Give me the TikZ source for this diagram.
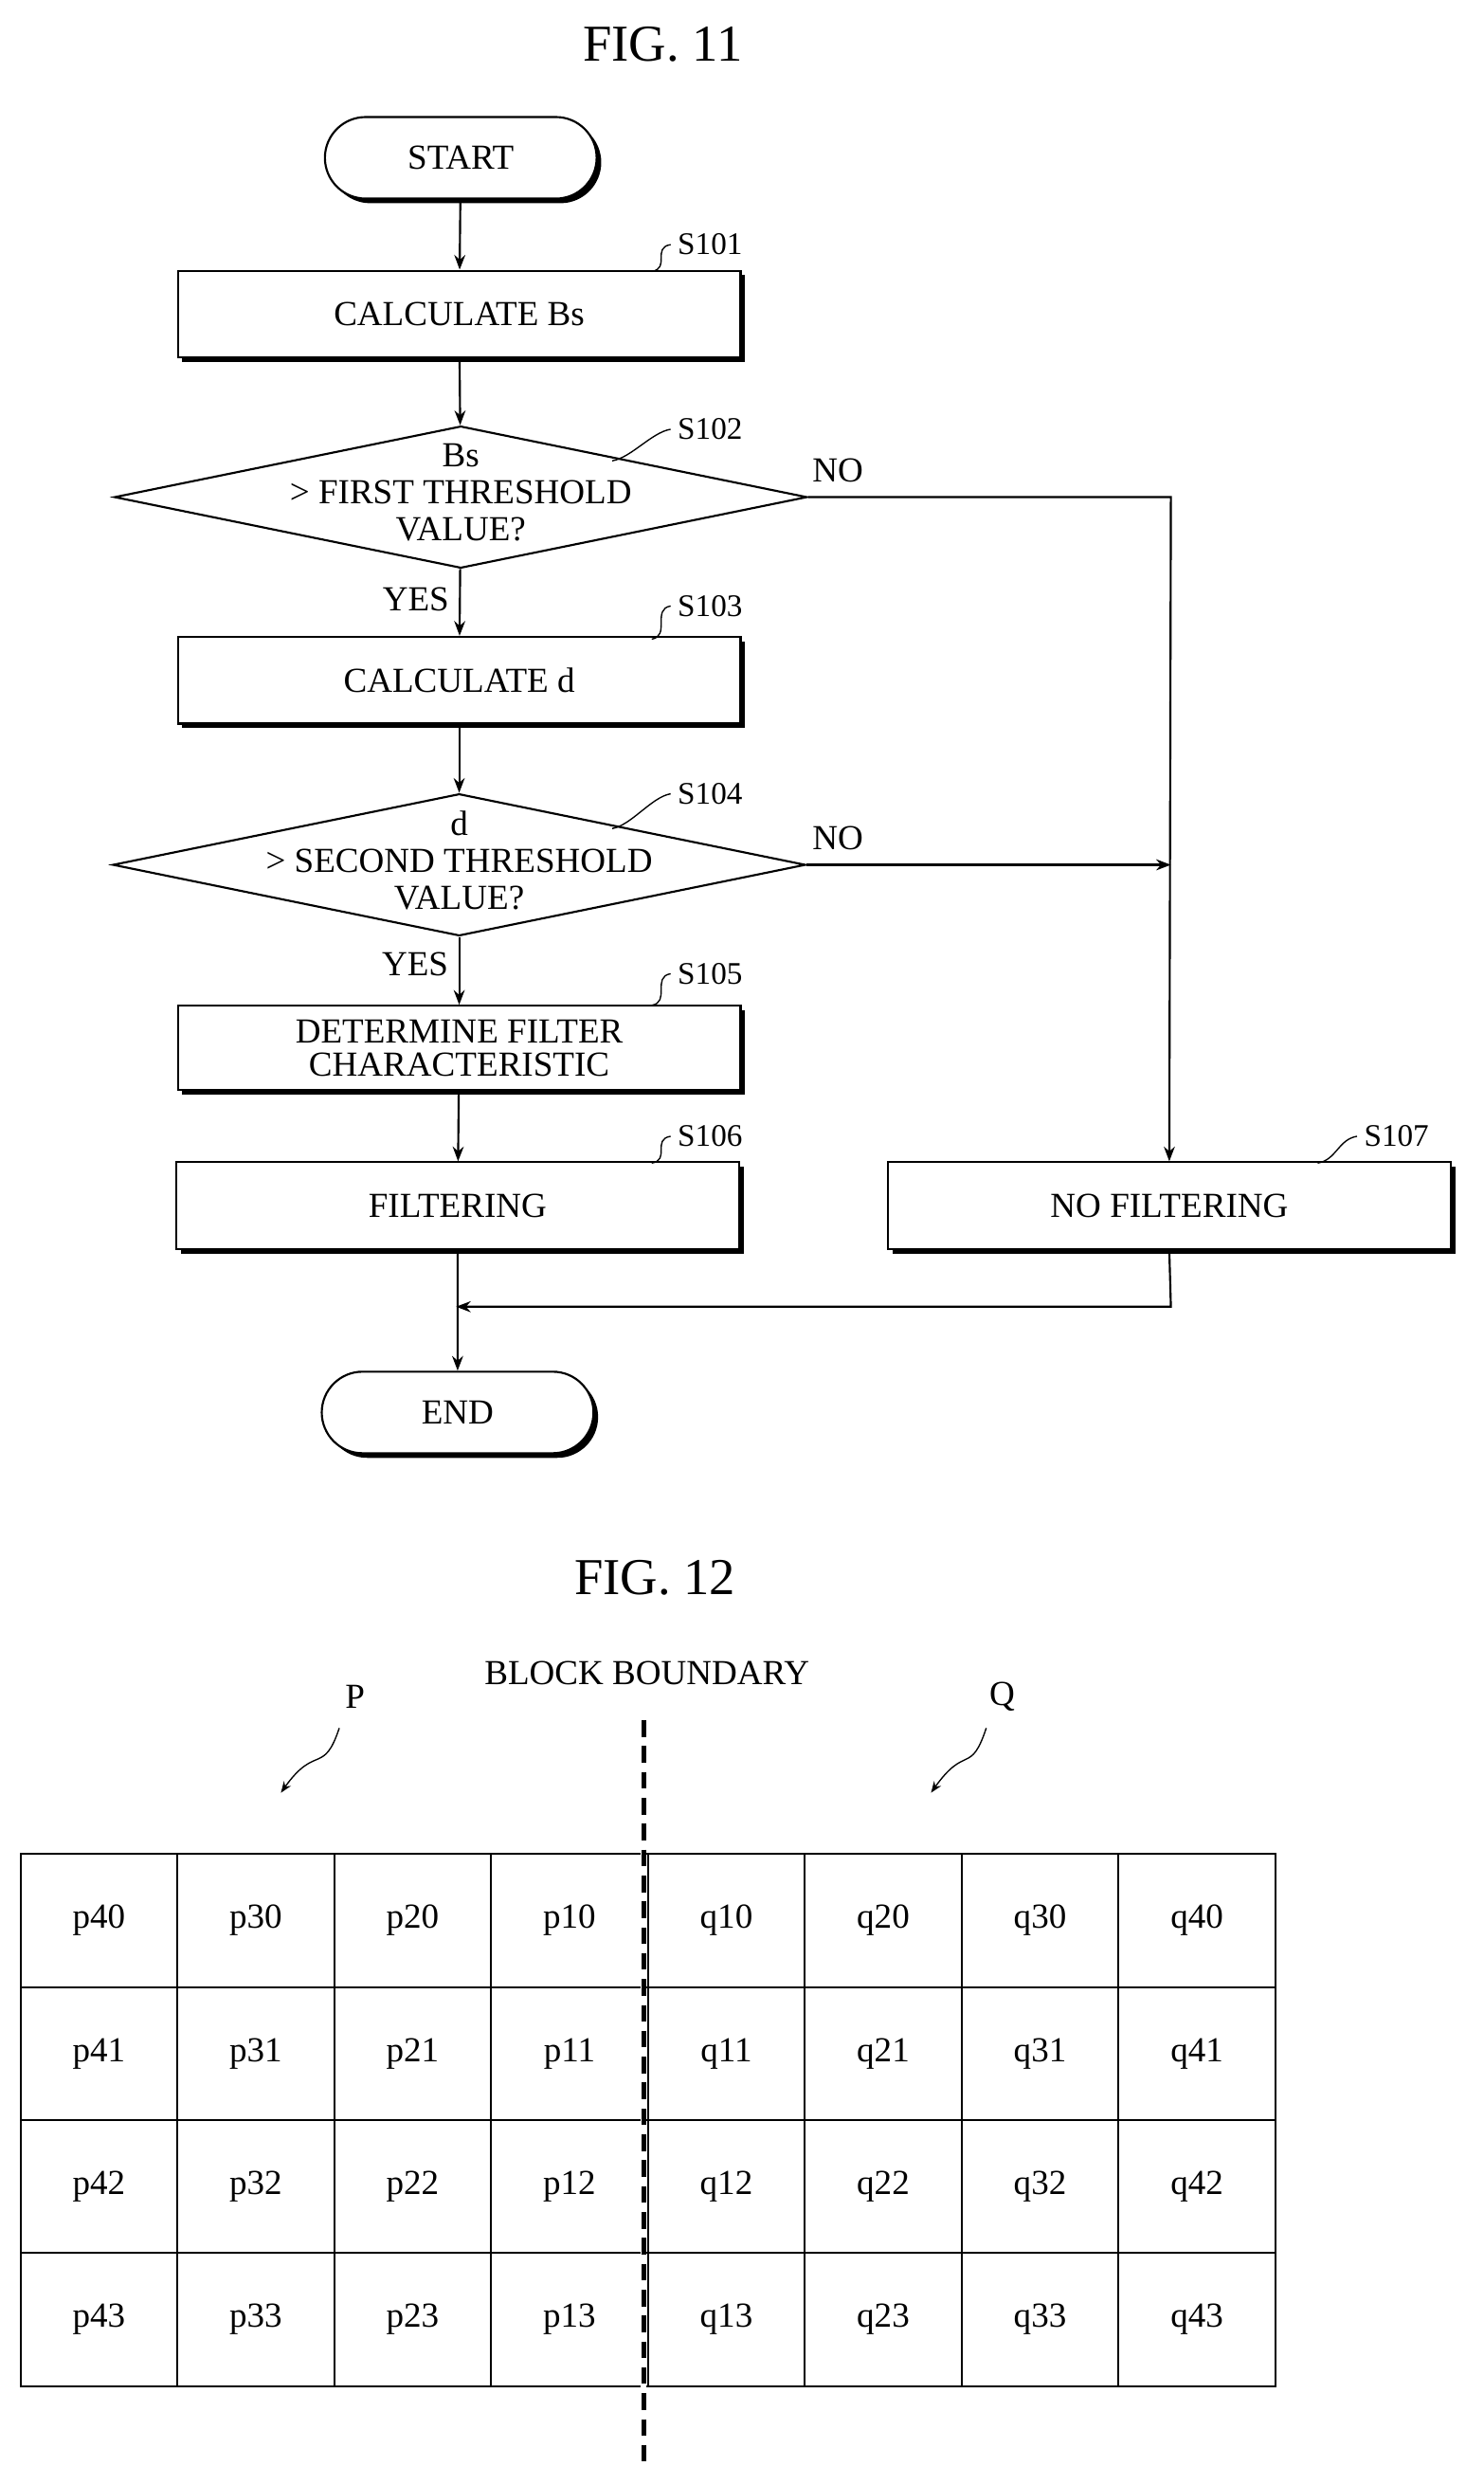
\documentclass[tikz,border=0pt]{standalone}
\usepackage{fontspec}
\setmainfont{Liberation Serif}
\usetikzlibrary{positioning,shapes.geometric,shapes.misc,arrows.meta}

\begin{document}
\begin{tikzpicture}[x=0.03cm, y=-0.03cm, semithick, line width=1.1pt, >=Stealth,
            font=\fontsize{19}{21}\selectfont,
            box/.style ={draw, fill=white, minimum width=10.7cm, minimum height=1.65cm, align=center,
                         preaction={fill=black, transform canvas={xshift=2.5pt, yshift=-2.5pt}}},
            term/.style ={draw, fill=white, rounded rectangle, minimum width=5.4cm, minimum height=1.55cm,
                         preaction={fill=black, transform canvas={xshift=2.5pt, yshift=-2.5pt}}},
            dia/.style ={draw, diamond, minimum width=13.17cm, minimum height=2.7cm, inner sep=0pt},
            steplabel/.style ={font=\fontsize{17}{19}\selectfont},
            cell/.style ={draw, minimum width=2.98cm, minimum height=2.53cm, inner sep=0pt}]
            \useasboundingbox (0,0) rectangle (940,1574);

            %flow chart
            \node[font=\fontsize{28}{30}\selectfont] (fig11) at (420, 28) {FIG. 11};
            \node[term] (start) at (292, 100) {START};
            \node[box] (s101) at (291, 199) {CALCULATE Bs};
            \node[dia] (s102) at (292, 315) {};
            \node[align=center, font=\fontsize{19}{20}\selectfont] (t102) at (292, 312) {Bs\\> FIRST THRESHOLD\\VALUE?};
            \node[box] (s103) at (291, 431) {CALCULATE d};
            \node[dia] (s104) at (291, 548) {};
            \node[align=center, font=\fontsize{19}{20}\selectfont] (t104) at (291, 545) {d\\> SECOND THRESHOLD\\VALUE?};
            \node[box, minimum height=1.6cm, font=\fontsize{19}{18}\selectfont] (s105) at (291, 664) {DETERMINE FILTER\\CHARACTERISTIC};
            \node[box] (s106) at (290, 764) {FILTERING};
            \node[box] (s107) at (741, 764) {NO FILTERING};
            \node[term] (end) at (290, 895) {END};

            \coordinate (c1) at (742, 315);
            \coordinate (c2) at (742, 548);
            \coordinate (c3) at (742, 828);
            \coordinate (c4) at (289, 828);

            \draw[->] (start) -- (s101);
            \draw[->] (s101) -- (s102);
            \draw[->] (s102) -- node[left=2pt, pos=0.45] {YES} (s103);
            \draw[->] (s103) -- (s104);
            \draw[->] (s104) -- node[left=2pt, pos=0.4] {YES} (s105);
            \draw[->] (s105) -- (s106);
            \draw[->] (s106) -- (end);
            \draw[->] (s102.east) -- (c1) -- (s107.north);
            \draw[->] (s104.east) -- (c2);
            \draw[->] (s107.south) -- (c3) -- (c4);
            \node (no1) at (531, 298) {NO};
            \node (no2) at (531, 531) {NO};

            %step labels
            \foreach \n/\bx/\by/\lx/\ly in {101/413/172/450/155, 102/388/292/450/272, 103/413/405/450/384,
                                        104/388/525/450/503, 105/413/637/450/617, 106/413/737/450/720,
                                        107/835/737/885/720}{
                \node[steplabel] (l\n) at (\lx, \ly) {S\n};
                \coordinate (b\n) at (\bx, \by);
                \draw[line width=0.7pt] (b\n) .. controls +(12,-2) and +(-12,2) .. (l\n.west);
            }

            %block boundary
            \node[font=\fontsize{28}{30}\selectfont] (fig12) at (415, 1000) {FIG. 12};
            \node (bb) at (410, 1060) {BLOCK BOUNDARY};
            \node (p) at (225, 1075) {P};
            \node (q) at (635, 1075) {Q};
            \coordinate (pa) at (178, 1136);
            \coordinate (qa) at (590, 1136);
            \draw[->, line width=0.7pt] (215, 1095) .. controls (205, 1125) and (200, 1105) .. (pa);
            \draw[->, line width=0.7pt] (625, 1095) .. controls (615, 1125) and (612, 1105) .. (qa);

            \foreach \c in {0,...,7}{
                \foreach \r in {0,...,3}{
                    \pgfmathtruncatemacro{\k}{\c<4 ? 4-\c : \c-3}
                    \ifnum\c<4 \def\pq{p}\else\def\pq{q}\fi
                    \node[cell] (\pq\k\r) at ({62.7+99.4*\c}, {1217+84.25*\r}) {\pq\k\r};
                }
            }
            \coordinate (bt) at (408, 1090);
            \coordinate (bb2) at (408, 1560);
            \draw[white, line width=3pt] (bt) -- (bb2);
            \draw[dashed, line width=2.4pt, dash pattern=on 9pt off 5pt] (bt) -- (bb2);
\end{tikzpicture}
\end{document}
